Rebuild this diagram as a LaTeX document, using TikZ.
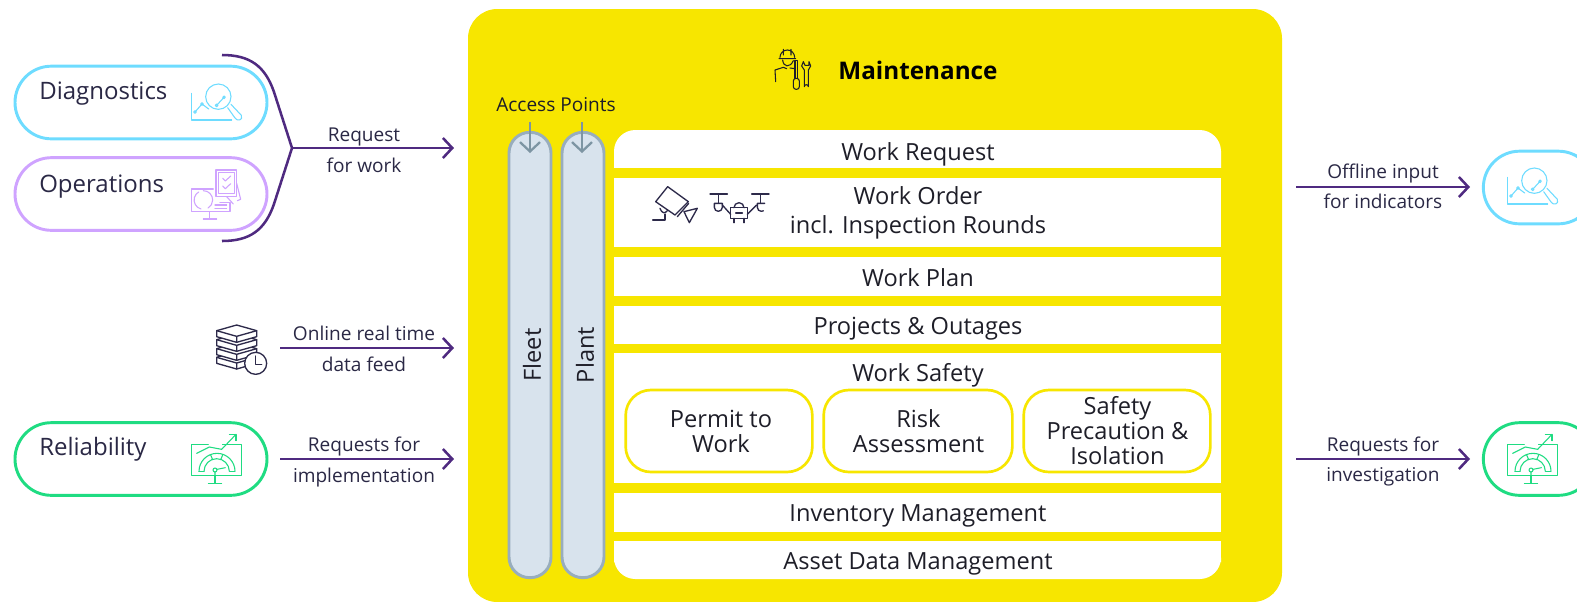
\documentclass[tikz,border=0pt]{standalone}
\usepackage{fontspec}
\setmainfont{Open Sans}
\usetikzlibrary{arrows.meta,shapes.misc}
\definecolor{ykey}{HTML}{F7E600}
\definecolor{cyanline}{HTML}{6EDCFF}
\definecolor{lilacline}{HTML}{CFA3FF}
\definecolor{greenline}{HTML}{1FDC82}
\definecolor{purpleline}{HTML}{4F2A80}
\definecolor{inktext}{HTML}{2A2845}
\definecolor{rowtext}{HTML}{1E1E28}
\definecolor{pillfill}{HTML}{D8E3ED}
\definecolor{pillline}{HTML}{98ADBD}
\definecolor{pillarrow}{HTML}{7D95A3}
\definecolor{iconink}{HTML}{2D2A4A}
\tikzset{
  rowlabel/.style={font=\fontsize{17.7}{21.5}\selectfont,text=rowtext,align=center,inner sep=0pt},
  sublabel/.style={font=\fontsize{17.7}{18.8}\selectfont,text=rowtext,align=center,inner sep=0pt},
  sidelabel/.style={font=\fontsize{18}{21}\selectfont,text=inktext,anchor=west,inner sep=0pt},
  flowlabel/.style={font=\fontsize{14.3}{17}\selectfont,text=inktext,inner sep=0pt},
  rowbox/.style={fill=white},
  subbox/.style={draw=ykey,line width=2pt,fill=white,rounded corners=19pt,inner sep=0pt},
  sidepill/.style={draw=#1,line width=2.2pt,rounded rectangle,fill=white,inner sep=0pt,minimum width=189pt,minimum height=54.5pt},
  vpill/.style={draw=pillline,line width=2.2pt,fill=pillfill,rounded corners=15.5pt,inner sep=0pt,minimum width=31.5pt,minimum height=334pt},
  flow/.style={draw=purpleline,line width=1.9pt,-{Straight Barb[length=7pt,width=15pt,line width=1.9pt]}},
  bracket/.style={draw=purpleline,line width=1.9pt},
  accessarrow/.style={draw=pillarrow,line width=1.7pt,-{Straight Barb[length=7pt,width=15pt,line width=1.7pt]}},
  zoomed/.style={x=0.25pt,y=-0.25pt,line width=0.8pt,line cap=round,line join=round}
}
\newcommand{\magicon}[1]{%
  \draw[#1] (575,160)--(575,240)--(695,240);
  \draw[#1] (585,216)--(606,192)--(626,207);
  \draw[#1] (655,170) circle (38);
  \draw[#1] (693,193)--(724,226) .. controls (730,240) and (712,246) .. (705,234)--(683,203);
  \draw[#1] (650,196)--(672,172);
  \draw[#1] (585,216) circle (4) (606,192) circle (4) (650,196) circle (4) (672,172) circle (4);
}
\newcommand{\gaugeicon}[1]{%
  \draw[#1] (575,403) rectangle (725,497);
  \draw[#1,white,line width=2pt] (630,403)--(662,403);
  \draw[#1] (590,430)--(628,411)--(665,418)--(708,373);
  \draw[#1] (688,373)--(708,373)--(708,392);
  \draw[#1] (597,484) arc (180:360:54);
  \draw[#1] (612,484) arc (180:360:38);
  \draw[#1] (597,484)--(612,484) (689,484)--(704,484);
  \draw[#1] (632,435)--(638,449) (668,435)--(662,449);
  \draw[#1] (645,480) circle (6);
  \draw[#1] (651,478)--(676,473) (645,486)--(645,497);
  \draw[#1] (645,497)--(645,520) (625,520)--(665,520);
}
\begin{document}
\begin{tikzpicture}[x=0.75pt,y=-0.75pt]
\useasboundingbox (0,0) rectangle (1577,601);
\clip (0,0) rectangle (1577,601);

% main panel
\fill[ykey,rounded corners=22pt] (468,9) rectangle (1282,602);
\node[font=\fontsize{18.2}{21}\selectfont\bfseries,text=black,inner sep=0pt] (title) at (918,70) {Maintenance};

% rows
\fill[rowbox,rounded corners=16pt] (614,130) -- (1221,130) -- (1221,190) -- (614,190) -- cycle;
\fill[ykey] (610,168) rectangle (1225,178);
\fill[rowbox] (614,178) rectangle (1221,247);
\fill[rowbox] (614,257) rectangle (1221,295.5);
\fill[rowbox] (614,305.5) rectangle (1221,344);
\fill[rowbox] (614,353) rectangle (1221,483);
\fill[rowbox] (614,493) rectangle (1221,532);
\fill[rowbox,rounded corners=16pt] (614,541) -- (1221,541) -- (1221,579) -- (614,579) -- cycle;
\fill[rowbox] (614,541) rectangle (1221,560);
\node[rowlabel] (wreq) at (918,154) {Work Request};
\node[rowlabel] (word) at (918,213) {Work Order\\incl. Inspection Rounds};
\node[rowlabel] (wplan) at (918,278) {Work Plan};
\node[rowlabel] (proj) at (918,329) {Projects \& Outages};
\node[rowlabel] (wsafe) at (918,375) {Work Safety};
\node[rowlabel] (inv) at (918,516) {Inventory Management};
\node[rowlabel] (asset) at (918,564) {Asset Data Management};

% work safety sub boxes
\node[subbox,minimum width=140pt,minimum height=61.5pt] (permit) at (719,431) {};
\node[sublabel] (permitt) at (721,431) {Permit to\\Work};
\node[subbox,minimum width=141.5pt,minimum height=61.5pt] (risk) at (918,431) {};
\node[sublabel] (riskt) at (918.5,431) {Risk\\Assessment};
\node[subbox,minimum width=140pt,minimum height=61.5pt] (prec) at (1117,431) {};
\node[sublabel] (prect) at (1117.5,431) {Safety\\Precaution \&\\Isolation};

% vertical pills
\node[vpill] (fleet) at (530,355) {};
\node[vpill] (plant) at (583,355) {};
\node[rowlabel,rotate=90] (fleett) at (532,355) {Fleet};
\node[rowlabel,rotate=90] (plantt) at (585,355) {Plant};
\node[font=\fontsize{14.3}{17}\selectfont,text=rowtext,inner sep=0pt] (access) at (556,105) {Access Points};
\coordinate (fleetin) at (530,122);
\coordinate (fleetend) at (530,153);
\coordinate (plantin) at (582,122);
\coordinate (plantend) at (582,153);
\draw[accessarrow] (fleetin) -- (fleetend);
\draw[accessarrow] (plantin) -- (plantend);

% left pills
\node[sidepill=cyanline] (diag) at (141,102.5) {};
\node[sidepill=lilacline] (oper) at (141,194) {};
\node[sidepill=greenline] (reli) at (141,459) {};
\node[sidelabel] (diagt) at (39,94) {Diagnostics};
\node[sidelabel] (opert) at (39,187) {Operations};
\node[sidelabel] (relit) at (39,449.5) {Reliability};

% right pills
\node[sidepill=cyanline,minimum width=83.5pt] (rdiag) at (1539,187.5) {};
\node[sidepill=greenline,minimum width=83.5pt] (rreli) at (1539,459) {};

% bracket and flows
\coordinate (jn) at (292,148);
\coordinate (btop) at (222,55);
\coordinate (bbot) at (222,241);
\draw[bracket,line join=miter] (btop) .. controls (250,55) and (265,66) .. (274,92) -- (jn) -- (274,204) .. controls (265,230) and (250,241) .. (bbot);
\coordinate (reqend) at (454,148);
\draw[flow] (jn) -- (reqend);
\coordinate (ons) at (280,348);
\coordinate (one) at (454,348);
\draw[flow] (ons) -- (one);
\coordinate (ims) at (280,459);
\coordinate (ime) at (454,459);
\draw[flow] (ims) -- (ime);
\coordinate (ofs) at (1296,187);
\coordinate (ofe) at (1470,187);
\draw[flow] (ofs) -- (ofe);
\coordinate (ins) at (1296,459);
\coordinate (ine) at (1470,459);
\draw[flow] (ins) -- (ine);

\node[flowlabel] (l1) at (364,137) {Request};
\node[flowlabel] (l2) at (364,165) {for work};
\node[flowlabel] (l3) at (364,333) {Online real time};
\node[flowlabel] (l4) at (364,364) {data feed};
\node[flowlabel] (l5) at (364,446) {Requests for};
\node[flowlabel] (l6) at (364,478) {implementation};
\node[flowlabel] (l7) at (1383,173) {Offline input};
\node[flowlabel] (l8) at (1383,201) {for indicators};
\node[flowlabel] (l9) at (1383,446) {Requests for};
\node[flowlabel] (l10) at (1383,477) {investigation};

% icons: magnifier
\begin{scope}[shift={(0,40)},zoomed]
\magicon{cyanline}
% operations icon
\draw[lilacline] (648,390) rectangle (710,470);
\draw[lilacline] (655,398) rectangle (703,460);
\draw[lilacline] (668,415)--(676,423)--(692,408) (668,438)--(676,446)--(692,431);
\draw[lilacline] (640,447)--(575,447)--(575,515)--(690,515)--(690,487)--(660,487);
\draw[lilacline] (610,452) arc (270:420:28) (603,507) arc (105:240:28);
\draw[lilacline] (645,495)--(680,495) (645,506)--(680,506);
\draw[lilacline] (628,515)--(628,535) (610,537)--(650,537);
\draw[lilacline] (710,430)--(722,478)--(712,482) (680,470)--(700,492);
\end{scope}
\begin{scope}[shift={(1316,124)},zoomed]
\magicon{cyanline}
\end{scope}
\begin{scope}[shift={(0,310)},zoomed]
\gaugeicon{greenline}
% database
\foreach \d in {80,54,27,0}{
  \draw[iconink,line width=1pt,fill=white] (650,{62+\d})--(710,{45+\d})--(770,{62+\d})--(770,{80+\d})--(710,{97+\d})--(650,{80+\d})--cycle;
  \draw[iconink,line width=1pt] (650,{62+\d})--(710,{79+\d})--(770,{62+\d}) (710,{79+\d})--(710,{97+\d});
}
\draw[iconink,line width=1pt,fill=white] (767,160) circle (33);
\draw[iconink,line width=1pt] (767,138)--(767,163)--(785,163);
\end{scope}
\begin{scope}[shift={(1316,0)},shift={(0,310)},zoomed]
\gaugeicon{greenline}
\end{scope}
\begin{scope}[shift={(480,30)},zoomed]
% worker
\draw[rowtext,line width=0.8pt] (900,82) arc (180:360:22) (897,86)--(947,86) (910,75)--(910,58) (933,75)--(933,58);
\draw[rowtext,line width=0.8pt] (908,90) .. controls (910,112) and (930,114) .. (940,92);
\draw[rowtext,line width=0.8pt] (887,155)--(885,120)--(910,112)--(920,116) (930,114)--(945,116);
\draw[rowtext,line width=0.8pt] (945,92) rectangle (952,145);
\draw[rowtext,line width=0.8pt,rounded corners=2pt] (940,145) rectangle (958,178);
\draw[rowtext,line width=0.8pt] (970,95)--(965,108)--(973,120)--(973,170) arc (180:360:6)--(985,120)--(992,108)--(987,95)--(987,106)--(975,106)--cycle;
% camera
\draw[iconink,line width=1pt] (563,470)--(625,515)--(585,555)--(527,515)--cycle;
\draw[iconink,line width=1pt] (518,570)--(555,570)--(555,552);
\draw[iconink,line width=1pt] (540,535) .. controls (545,550) and (555,552) .. (562,542);
\draw[iconink,line width=1pt] (592,560)--(626,520) (612,545)--(652,535)--(628,578)--cycle;
% drone
\draw[iconink,line width=1pt] (690,492)--(742,492) (815,492)--(867,492) (716,492)--(716,518) (841,492)--(841,518);
\draw[iconink,line width=1pt] (703,520)--(703,532) arc (180:0:12)--(727,520)--cycle;
\draw[iconink,line width=1pt] (854,520)--(832,520)--(832,532) arc (180:60:12);
\draw[iconink,line width=1pt] (727,525)--(752,553) (830,525)--(802,553);
\draw[iconink,line width=1pt] (752,533) rectangle (802,565);
\draw[iconink,line width=1pt] (762,533) arc (180:360:15);
\draw[iconink,line width=1pt] (767,549)--(787,549);
\draw[iconink,line width=1pt] (762,565)--(762,578)  (792,565)--(792,578);
\end{scope}
\end{tikzpicture}
\end{document}
